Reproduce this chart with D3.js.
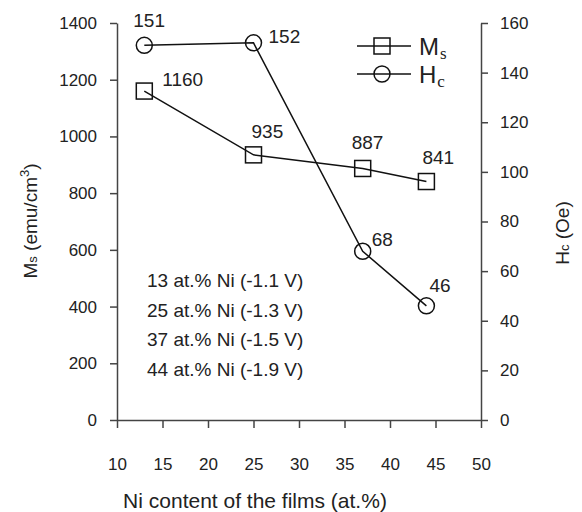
<!DOCTYPE html>
<html>
<head>
<meta charset="utf-8">
<script src="https://cdn.jsdelivr.net/npm/d3@7"></script>
<style>
  body { margin: 0; background: #fff; }
  svg { font-family: "Liberation Sans", Arial, sans-serif; }
</style>
</head>
<body>
<div id="chart"></div>
<script>
// data
var niContent = [13, 25, 37, 44];
var msValues = [1160, 935, 887, 841];
var hcValues = [151, 152, 68, 46];
var xTicks = [10, 15, 20, 25, 30, 35, 40, 45, 50];
var msTicks = [0, 200, 400, 600, 800, 1000, 1200, 1400];
var hcTicks = [0, 20, 40, 60, 80, 100, 120, 140, 160];
var notes = ["13 at.% Ni (-1.1 V)", "25 at.% Ni (-1.3 V)", "37 at.% Ni (-1.5 V)", "44 at.% Ni (-1.9 V)"];

// label nudges (px) so the numbers sit like in the figure
var msLabelOff = [[18, -5], [-2, -17], [-11, -19], [-4, -18]];
var hcLabelOff = [[-11, -18], [15, 0], [9, -5], [3, -14]];

var width = 582, height = 512;
var plotL = 117, plotR = 481, plotT = 23, plotB = 420;

var svg = d3.select("#chart").append("svg")
  .attr("width", width)
  .attr("height", height);

var x = d3.scaleLinear().domain([10, 50]).range([plotL, plotR]);
var yMs = d3.scaleLinear().domain([0, 1400]).range([plotB, plotT]);
var yHc = d3.scaleLinear().domain([0, 160]).range([plotB, plotT]);

var axisColor = "#444";
var fs = "17px";

function styleAxis(g) {
  g.selectAll(".domain").attr("stroke", axisColor).attr("stroke-width", 1.5);
  g.selectAll(".tick line").attr("stroke", axisColor).attr("stroke-width", 1.5);
  g.selectAll(".tick text").attr("fill", "#222").style("font-size", fs)
    .style("font-family", "'Liberation Sans', Arial, sans-serif");
}

// left axis
svg.append("g")
  .attr("transform", "translate(" + plotL + ",0)")
  .call(d3.axisLeft(yMs).tickValues(msTicks).tickFormat(d3.format("d"))
    .tickSize(7).tickSizeOuter(0).tickPadding(13))
  .call(styleAxis);

// right axis
svg.append("g")
  .attr("transform", "translate(" + plotR + ",0)")
  .call(d3.axisRight(yHc).tickValues(hcTicks).tickSize(7).tickSizeOuter(0).tickPadding(12))
  .call(styleAxis);

// bottom axis
svg.append("g")
  .attr("transform", "translate(0," + plotB + ")")
  .call(d3.axisBottom(x).tickValues(xTicks).tickSize(8).tickSizeOuter(0).tickPadding(30))
  .call(styleAxis);

// axis titles
svg.append("text")
  .attr("x", 255).attr("y", 508)
  .attr("text-anchor", "middle")
  .style("font-size", "21px").attr("fill", "#222")
  .text("Ni content of the films (at.%)");

var lt = svg.append("text")
  .attr("transform", "translate(37,221) rotate(-90)")
  .attr("text-anchor", "middle")
  .style("font-size", "19px").attr("fill", "#222");
lt.append("tspan").text("M");
lt.append("tspan").style("font-size", "13px").text("s");
lt.append("tspan").text(" (emu/cm");
lt.append("tspan").style("font-size", "13px").attr("dy", -8).text("3");
lt.append("tspan").attr("dy", 8).text(")");

var rt = svg.append("text")
  .attr("transform", "translate(569,233) rotate(-90)")
  .attr("text-anchor", "middle")
  .style("font-size", "19px").attr("fill", "#222");
rt.append("tspan").text("H");
rt.append("tspan").style("font-size", "13px").text("c");
rt.append("tspan").text(" (Oe)");

// series
var msData = niContent.map(function(d, i) { return { x: d, y: msValues[i], off: msLabelOff[i] }; });
var hcData = niContent.map(function(d, i) { return { x: d, y: hcValues[i], off: hcLabelOff[i] }; });

var msLine = d3.line().x(function(d) { return x(d.x); }).y(function(d) { return yMs(d.y); });
var hcLine = d3.line().x(function(d) { return x(d.x); }).y(function(d) { return yHc(d.y); });

svg.append("path").datum(msData)
  .attr("d", msLine).attr("fill", "none").attr("stroke", "#111").attr("stroke-width", 1.5);
svg.append("path").datum(hcData)
  .attr("d", hcLine).attr("fill", "none").attr("stroke", "#111").attr("stroke-width", 1.5);

var sq = 16;
svg.selectAll(".ms").data(msData).enter().append("rect")
  .attr("x", function(d) { return x(d.x) - sq / 2; })
  .attr("y", function(d) { return yMs(d.y) - sq / 2; })
  .attr("width", sq).attr("height", sq)
  .attr("fill", "none").attr("stroke", "#111").attr("stroke-width", 1.5);

svg.selectAll(".hc").data(hcData).enter().append("circle")
  .attr("cx", function(d) { return x(d.x); })
  .attr("cy", function(d) { return yHc(d.y); })
  .attr("r", 8)
  .attr("fill", "none").attr("stroke", "#111").attr("stroke-width", 1.5);

// value labels
svg.selectAll(".msl").data(msData).enter().append("text")
  .attr("x", function(d) { return x(d.x) + d.off[0]; })
  .attr("y", function(d) { return yMs(d.y) + d.off[1]; })
  .style("font-size", "19px").attr("fill", "#222")
  .text(function(d) { return d.y; });

svg.selectAll(".hcl").data(hcData).enter().append("text")
  .attr("x", function(d) { return x(d.x) + d.off[0]; })
  .attr("y", function(d) { return yHc(d.y) + d.off[1]; })
  .style("font-size", "19px").attr("fill", "#222")
  .text(function(d) { return d.y; });

// notes
svg.selectAll(".note").data(notes).enter().append("text")
  .attr("x", 147)
  .attr("y", function(d, i) { return 287 + i * 29.5; })
  .style("font-size", "19px").attr("fill", "#222")
  .text(function(d) { return d; });

// legend
var legend = svg.append("g");
[0, 1].forEach(function(i) {
  var ly = 46 + i * 28;
  legend.append("line")
    .attr("x1", 357).attr("x2", 411).attr("y1", ly).attr("y2", ly)
    .attr("stroke", "#111").attr("stroke-width", 1.5);
  if (i === 0) {
    legend.append("rect").attr("x", 382 - sq / 2).attr("y", ly - sq / 2)
      .attr("width", sq).attr("height", sq)
      .attr("fill", "none").attr("stroke", "#111").attr("stroke-width", 1.5);
  } else {
    legend.append("circle").attr("cx", 382).attr("cy", ly).attr("r", 8)
      .attr("fill", "none").attr("stroke", "#111").attr("stroke-width", 1.5);
  }
  var t = legend.append("text").attr("x", 419).attr("y", ly + 9)
    .style("font-size", "24px").attr("fill", "#222");
  t.append("tspan").text(i === 0 ? "M" : "H");
  t.append("tspan").attr("dy", 4).attr("dx", 1)
    .style("font-family", "'Liberation Serif', 'Times New Roman', serif")
    .style("font-size", "17px").text(i === 0 ? "s" : "c");
});
</script>
</body>
</html>
